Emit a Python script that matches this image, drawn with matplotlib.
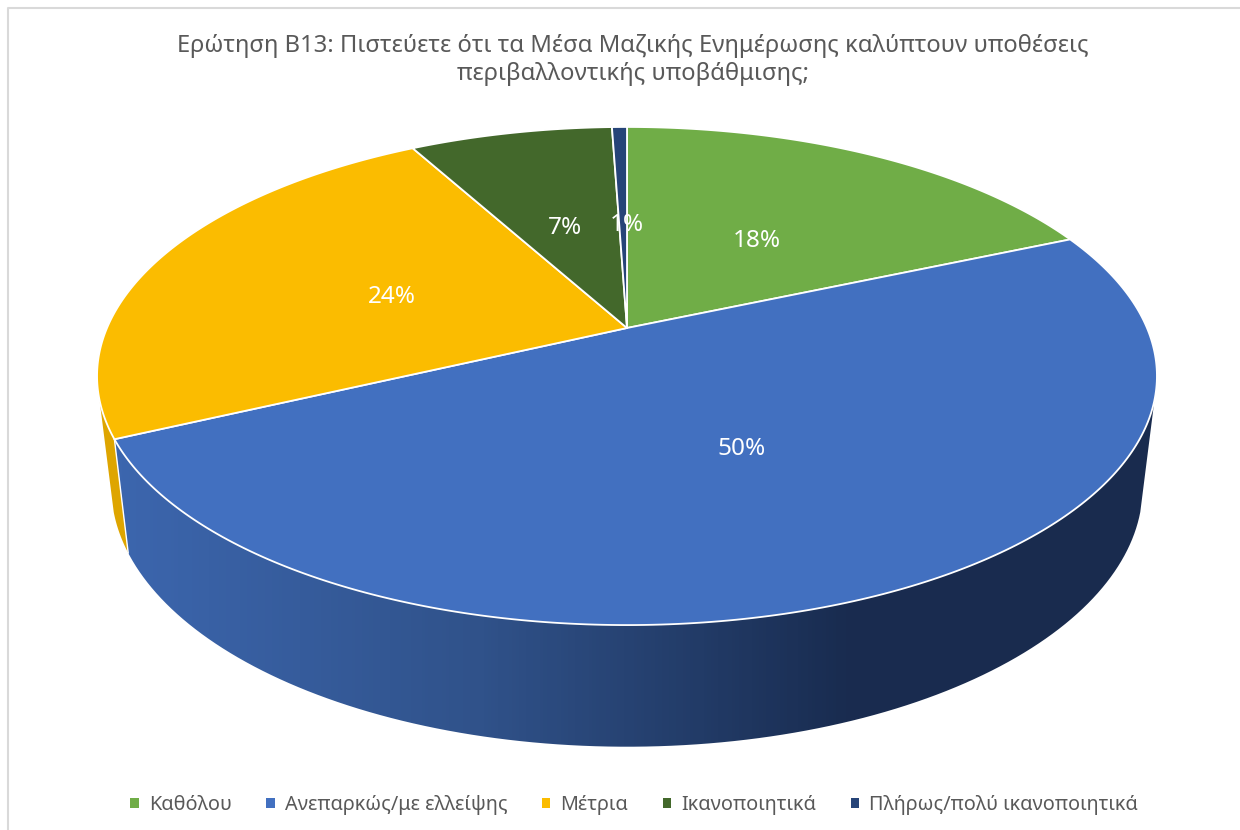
import numpy as np
import matplotlib
matplotlib.use('Agg')
import matplotlib.pyplot as plt
from matplotlib.patches import Polygon, PathPatch, Patch
from matplotlib.path import Path
from matplotlib.colors import LinearSegmentedColormap

plt.rcParams['font.family'] = ['Noto Sans', 'DejaVu Sans']

title = 'Ερώτηση Β13: Πιστεύετε ότι τα Μέσα Μαζικής Ενημέρωσης καλύπτουν υποθέσεις\nπεριβαλλοντικής υποβάθμισης;'
categories = ['Καθόλου', 'Ανεπαρκώς/με ελλείψης', 'Μέτρια', 'Ικανοποιητικά', 'Πλήρως/πολύ ικανοποιητικά']
values = [18.49, 49.51, 24.0, 7.45, 0.55]
colors = ['#70AD47', '#4270C0', '#FBBC00', '#43682B', '#264478']

GREY = '#595959'
CX = 627
K = 0.1928


def top_xy(t):
	# projected point of the pie's top circle, t in degrees
	r = np.radians(t)
	d = 1 + K * np.sin(r)
	return CX + 520 * np.cos(r) / d, 328 - 239.8 * np.sin(r) / d


def bottom_xy(t):
	r = np.radians(t)
	d = 1 + K * np.sin(r)
	return CX + 506 * np.cos(r) / d, 437 - 250 * np.sin(r) / d


def arc(func, t1, t2):
	ts = np.linspace(t1, t2, 240)
	x, y = func(ts)
	return np.column_stack([x, y])


fig = plt.figure(figsize=(12.4, 8.3), dpi=100)
ax = fig.add_axes([0, 0, 1, 1])
ax.axis('off')

# chart frame, only left and top show in the crop
ax.plot([8, 8, 1240], [830, 8, 8], color='#D9D9D9', lw=1.5, zorder=1)

# slice boundaries, clockwise from 12 o'clock
edges = 90 - 3.6 * np.concatenate([[0], np.cumsum(values)])

# side wall of the blue slice, with the shading running left to right
wall_l = edges[2]
wall_r = -16.5
blue_wall = np.vstack([arc(top_xy, wall_l, wall_r), arc(bottom_xy, wall_r, wall_l)])
shade = LinearSegmentedColormap.from_list('shade', [(0, '#3C66AE'), (0.35, '#30528A'), (0.7, '#192C50'), (1, '#192B4E')])
patch = PathPatch(Path(np.vstack([blue_wall, blue_wall[0]])), facecolor='none', edgecolor='none')
ax.add_patch(patch)
grad = np.linspace(0, 1, 300).reshape(1, -1)
im = ax.imshow(grad, extent=[115, 1160, 830, 0], cmap=shade, aspect='auto', zorder=2)
im.set_clip_path(patch)

# side wall of the amber slice
amber_wall = np.vstack([arc(top_xy, 196.5, edges[2] + 360), arc(bottom_xy, edges[2] + 360, 196.5)])
ax.add_patch(Polygon(amber_wall, closed=True, facecolor='#DEA500', edgecolor='none', zorder=3))
p1 = top_xy(edges[2])
p2 = bottom_xy(edges[2])
ax.plot([p1[0], p2[0]], [p1[1], p2[1]], color='white', lw=1.0, zorder=4)

# top face
for i, v in enumerate(values):
	pts = np.vstack([[CX, 328], arc(top_xy, edges[i], edges[i + 1])])
	ax.add_patch(Polygon(pts, closed=True, facecolor=colors[i], edgecolor='white', lw=1.3, joinstyle='round', zorder=5))

# labels sit half way out on each slice's middle angle
label_dx = [0, 0, 0, 0, 4]
for i, v in enumerate(values):
	mid = np.radians((edges[i] + edges[i + 1]) / 2)
	X, Y = 0.49 * np.cos(mid), 0.49 * np.sin(mid)
	d = 1 + K * Y
	ax.text(CX + 520 * X / d + label_dx[i], 328 - 239.8 * Y / d + 4, '%d%%' % round(v), color='white',
			fontsize=17.5, ha='center', va='center', zorder=6)

ax.text(633, 60, title, color=GREY, fontsize=17.15, ha='center', va='center', linespacing=1.17, zorder=6)

handles = [Patch(facecolor=c, edgecolor='none') for c in colors]
ax.legend(handles, categories, loc='center', bbox_to_anchor=(634, 805), bbox_transform=ax.transData,
		  ncol=5, frameon=False, fontsize=14.3, labelcolor=GREY, handlelength=0.42, handleheight=0.42,
		  handletextpad=0.5, columnspacing=1.75)

ax.set_xlim(0, 1240)
ax.set_ylim(830, 0)

fig.savefig('out.png', dpi=100)
